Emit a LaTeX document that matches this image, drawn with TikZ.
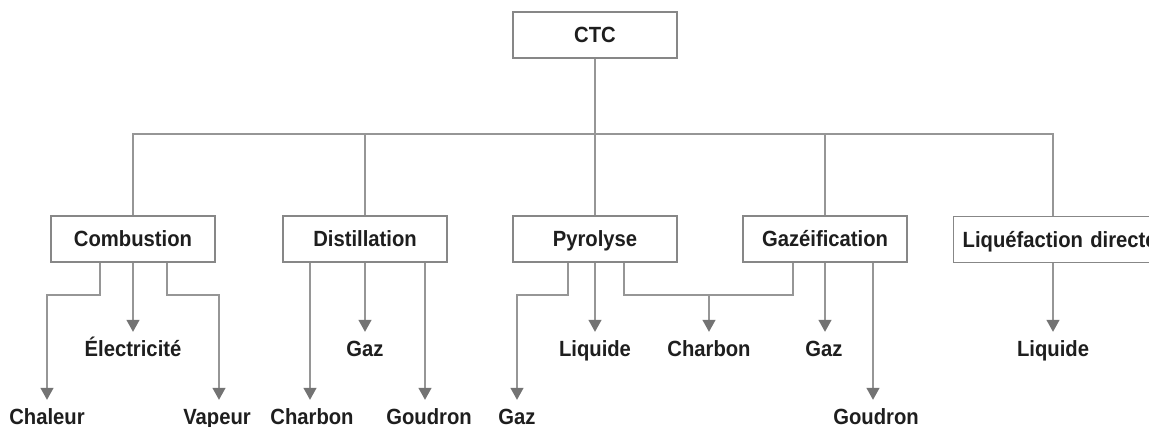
\documentclass[tikz,border=0pt]{standalone}
\usepackage{fontspec}
\setmainfont{Liberation Sans}[FakeStretch=0.92]
\usetikzlibrary{arrows.meta,calc}
\definecolor{lc}{RGB}{150,150,150}
\definecolor{ac}{RGB}{115,115,115}
\definecolor{bc}{RGB}{135,135,135}
\definecolor{tc}{RGB}{30,30,30}
\begin{document}
\begin{tikzpicture}[x=1pt,y=-1pt,
  box/.style={draw=bc, line width=1.3pt, fill=white, minimum width=164pt, minimum height=46pt,
    inner sep=0pt, text height=16pt, text depth=0pt, font=\fontsize{22}{24}\selectfont\bfseries, text=tc},
  lbl/.style={inner sep=0pt, text height=16pt, text depth=5pt, anchor=base,
    font=\fontsize{22}{24}\selectfont\bfseries, text=tc},
  ln/.style={draw=lc, line width=1.4pt},
  arr/.style={ln, -{Triangle[width=13pt,length=12pt,fill=ac,color=ac]}, shorten >=9pt}]
\useasboundingbox (0,0) rectangle (1149,427);
% boxes
\node (ctc)  [box] at (595,35) {CTC};
\node (comb) [box] at (133,239) {Combustion};
\node (dist) [box] at (365,239) {Distillation};
\node (pyr)  [box] at (595,239) {Pyrolyse};
\node (gzf)  [box] at (825,239) {Gazéification};
\node (liq)  [box, anchor=north west, minimum width=230pt, text width=220pt, align=left] at (953,216) {\hspace*{4pt}Liquéfaction directe};
% labels
\node (elec) [lbl] at (133,357) {Électricité};
\node (chal) [lbl] at (47,425) {Chaleur};
\node (vap)  [lbl] at (217,425) {Vapeur};
\node (chb1) [lbl] at (312,425) {Charbon};
\node (gaz1) [lbl] at (365,357) {Gaz};
\node (gou1) [lbl] at (429,425) {Goudron};
\node (gaz2) [lbl] at (517,425) {Gaz};
\node (liq1) [lbl] at (595,357) {Liquide};
\node (chb2) [lbl] at (709,357) {Charbon};
\node (gaz3) [lbl] at (824,357) {Gaz};
\node (gou2) [lbl] at (876,425) {Goudron};
\node (liq2) [lbl] at (1053,357) {Liquide};
\coordinate (hub) at (595,134);
\coordinate (lvl) at (0,295);
% top tree
\draw[ln] (ctc.south) -- (pyr.north);
\draw[ln] (comb.north) |- (hub) -| ([xshift=100pt]liq.north west);
\draw[ln] (dist.north) -- (dist.north |- hub);
\draw[ln] (gzf.north) -- (gzf.north |- hub);
% Combustion
\draw[arr] ([xshift=-33pt]comb.south) |- ([xshift=-33pt]comb.south |- lvl) -| (chal.north);
\draw[arr] (comb.south) -- (elec.north);
\draw[arr] ([xshift=34pt]comb.south) |- ([xshift=34pt]comb.south |- lvl) -| ([xshift=2pt]vap.north);
% Distillation
\draw[arr] ([xshift=-55pt]dist.south) -- ([xshift=-55pt]dist.south |- chb1.north);
\draw[arr] (dist.south) -- (gaz1.north);
\draw[arr] ([xshift=60pt]dist.south) -- ([xshift=60pt]dist.south |- gou1.north);
% Pyrolyse
\draw[arr] ([xshift=-27pt]pyr.south) |- ([xshift=-27pt]pyr.south |- lvl) -| (gaz2.north);
\draw[arr] (pyr.south) -- (liq1.north);
\draw[ln] ([xshift=29pt]pyr.south) |- ([xshift=29pt]pyr.south |- lvl) -| ([xshift=-32pt]gzf.south);
\draw[arr] (chb2.north |- lvl) -- (chb2.north);
% Gazeification
\draw[arr] (gzf.south) -- (gzf.south |- gaz3.north);
\draw[arr] ([xshift=48pt]gzf.south) -- ([xshift=48pt]gzf.south |- gou2.north);
% Liquefaction
\draw[arr] ([xshift=100pt]liq.south west) -- (liq2.north);
\end{tikzpicture}
\end{document}
